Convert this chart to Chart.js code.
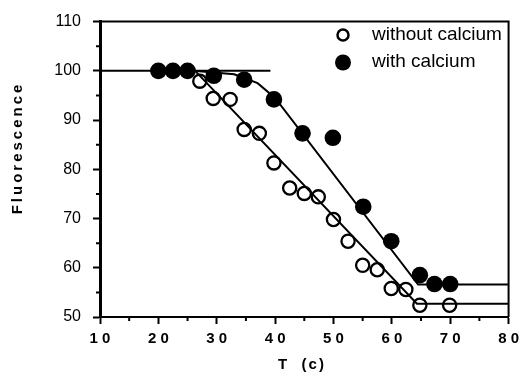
<!DOCTYPE html>
<html>
<head>
<meta charset="utf-8">
<script src="https://cdn.jsdelivr.net/npm/chart.js@4.4.1/dist/chart.umd.min.js"></script>
<style>
    html, body { margin: 0; padding: 0; background: #fff; }
</style>
</head>
<body>
<canvas id="chart" width="525" height="374"></canvas>
<script>
// Data
const tempWithout = [27.1, 29.4, 32.3, 34.7, 37.3, 39.8, 42.5, 45, 47.4, 50, 52.5, 55, 57.5, 59.9, 62.4, 64.8, 69.9];
const fluorWithout = [97.9, 94.4, 94.2, 88.1, 87.3, 81.3, 76.2, 75.1, 74.4, 69.8, 65.4, 60.5, 59.6, 55.8, 55.6, 52.4, 52.4];

const tempWith = [20, 22.5, 25, 29.5, 34.7, 39.8, 44.7, 49.9, 55.1, 59.9, 64.8, 67.3, 70];
const fluorWith = [100, 100, 100, 99, 98.2, 94.2, 87.3, 86.4, 72.4, 65.4, 58.5, 56.7, 56.7];

// Fitted lines
const baseX = [10, 39.2];
const baseY = [100, 100];
const fitWithX = [26, 33, 37, 40, 64.5, 80];
const fitWithY = [100, 99.3, 97.5, 94.5, 56.6, 56.6];
const fitWithoutX = [26.3, 64.3, 80];
const fitWithoutY = [100, 52.7, 52.7];

// Axis ticks
const xMinor = [15, 25, 35, 45, 55, 65, 75];
const yMinor = [55, 65, 75, 85, 95, 105];

const legendLabels = ['without calcium', 'with calcium'];
const xTitle = 'T  (c)';
const yTitle = 'Fluorescence';

const toPts = (xs, ys) => xs.map((v, i) => ({ x: v, y: ys[i] }));

function lineSet(xs, ys) {
    return {
        data: toPts(xs, ys),
        showLine: true,
        borderColor: '#000',
        borderWidth: 2,
        pointRadius: 0,
        tension: 0,
        order: 2
    };
}

// Frame, minor ticks, legend and axis titles
const extras = {
    id: 'extras',
    afterDraw(chart) {
        const { ctx, chartArea: a, scales: { x, y } } = chart;
        ctx.save();
        ctx.strokeStyle = '#000';
        ctx.fillStyle = '#000';

        ctx.lineWidth = 2;
        ctx.beginPath();
        ctx.moveTo(a.left, a.top);
        ctx.lineTo(a.right, a.top);
        ctx.lineTo(a.right, a.bottom);
        ctx.stroke();

        ctx.beginPath();
        xMinor.forEach(v => {
            const px = x.getPixelForValue(v);
            ctx.moveTo(px, a.bottom);
            ctx.lineTo(px, a.bottom + 4);
        });
        yMinor.forEach(v => {
            const py = y.getPixelForValue(v);
            ctx.moveTo(a.left, py);
            ctx.lineTo(a.left - 4, py);
        });
        ctx.stroke();

        // legend
        ctx.lineWidth = 2.5;
        ctx.beginPath();
        ctx.arc(343, 35, 5.5, 0, Math.PI * 2);
        ctx.stroke();
        ctx.beginPath();
        ctx.arc(343, 62.5, 8, 0, Math.PI * 2);
        ctx.fill();
        ctx.font = '19px "Liberation Sans", Arial, sans-serif';
        ctx.textAlign = 'left';
        ctx.textBaseline = 'middle';
        ctx.fillText(legendLabels[0], 372, 35);
        ctx.fillText(legendLabels[1], 372, 62);

        // axis titles
        ctx.font = 'bold 15px "Liberation Sans", Arial, sans-serif';
        ctx.letterSpacing = '2px';
        ctx.textAlign = 'center';
        ctx.fillText(xTitle, 302, 365);
        ctx.letterSpacing = '3px';
        ctx.translate(18, 148);
        ctx.rotate(-Math.PI / 2);
        ctx.fillText(yTitle, 0, 0);
        ctx.restore();
    }
};

new Chart(document.getElementById('chart'), {
    type: 'scatter',
    data: {
        datasets: [
            {
                data: toPts(tempWith, fluorWith),
                backgroundColor: '#000',
                borderWidth: 0,
                pointRadius: 8.3,
                order: 0
            },
            {
                data: toPts(tempWithout, fluorWithout),
                backgroundColor: 'rgba(0,0,0,0)',
                borderColor: '#000',
                borderWidth: 2.3,
                pointRadius: 6.6,
                order: 1
            },
            lineSet(baseX, baseY),
            lineSet(fitWithX, fitWithY),
            lineSet(fitWithoutX, fitWithoutY)
        ]
    },
    options: {
        responsive: false,
        animation: false,
        layout: { padding: { top: 20, right: 11, left: 0, bottom: 0 } },
        plugins: {
            legend: { display: false },
            tooltip: { enabled: false }
        },
        scales: {
            x: {
                type: 'linear',
                min: 10,
                max: 80,
                border: { color: '#000', width: 2 },
                grid: { drawOnChartArea: false, drawTicks: true, tickLength: 7, tickWidth: 2, tickColor: '#000' },
                ticks: {
                    stepSize: 10,
                    color: '#000',
                    padding: 6,
                    font: { family: '"Liberation Sans", Arial, sans-serif', size: 15, weight: 'bold' },
                    callback: v => String(v).split('').join(' ')
                },
                afterFit: s => { s.height = 57; }
            },
            y: {
                min: 50,
                max: 110,
                border: { color: '#000', width: 3 },
                grid: { drawOnChartArea: false, drawTicks: true, tickLength: 7, tickWidth: 2, tickColor: '#000' },
                ticks: {
                    stepSize: 10,
                    color: '#000',
                    padding: 12,
                    font: { family: '"Liberation Sans", Arial, sans-serif', size: 16 }
                },
                afterFit: s => { s.width = 100; }
            }
        }
    },
    plugins: [extras]
});
</script>
</body>
</html>
